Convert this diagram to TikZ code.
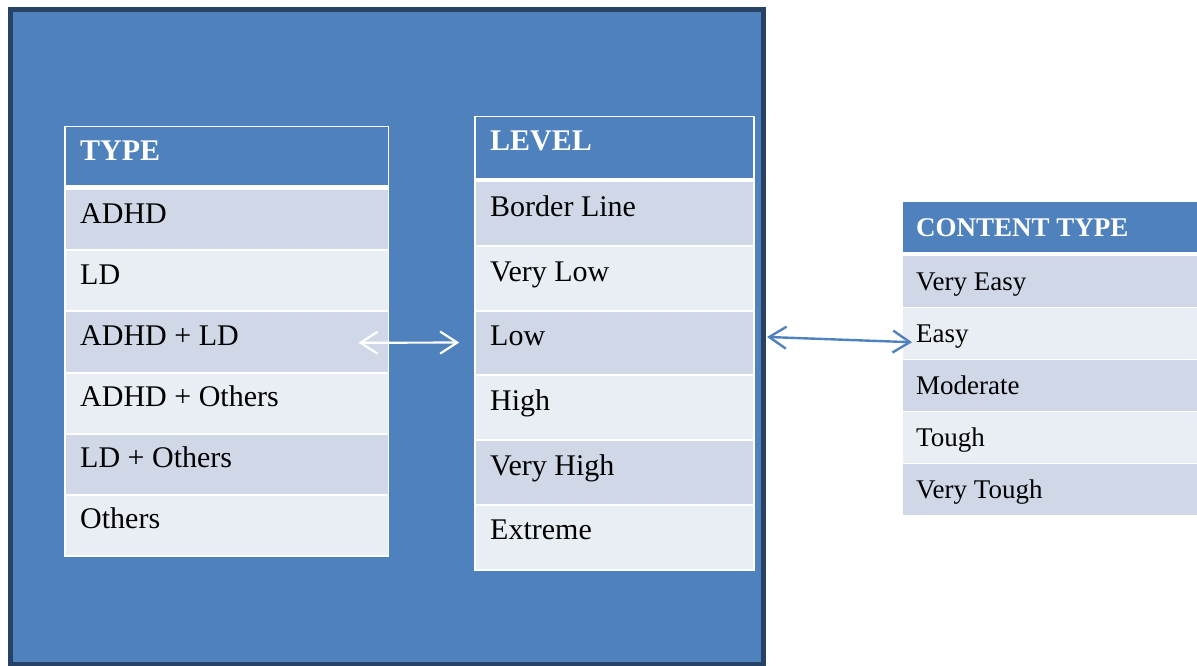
\documentclass[tikz,border=0pt]{standalone}
\usepackage{fontspec}
\setmainfont{Liberation Serif}
\usetikzlibrary{arrows.meta,calc}
\definecolor{accent}{HTML}{4F81BD}
\definecolor{frame}{HTML}{264366}
\definecolor{rowdark}{HTML}{D0D8E8}
\definecolor{rowlight}{HTML}{E9EDF4}
\tikzset{
  cell/.style={anchor=north west, inner sep=0pt, outer sep=0pt, draw=none},
  headtext/.style={anchor=base west, inner sep=0pt, text=white,
    font=\fontsize{#1}{#1}\selectfont\bfseries},
  bodytext/.style={anchor=base west, inner sep=0pt, text=black,
    font=\fontsize{#1}{#1}\selectfont},
  link/.style={line width=2.4pt, {Straight Barb[length=17pt,width=22pt]}-{Straight Barb[length=17pt,width=22pt]}}
}
\begin{document}
\begin{tikzpicture}[x=1pt,y=-1pt]
\useasboundingbox (0,0) rectangle (1197,666);

% framed panel holding the two inner tables
\node[cell, fill=accent, draw=frame, line width=5pt,
      minimum width=753pt, minimum height=655.5pt] (panel) at (10.5,9.2) {};

% TYPE table
\node[cell, fill=white, minimum width=325pt, minimum height=431pt] (typetab) at (64,126) {};
\node[cell, fill=accent, minimum width=322pt, minimum height=57.8pt] (typehead) at (65.5,127.5) {};
\node[headtext=30] (typetitle) at (80,160.5) {TYPE};
\foreach \t [count=\i] in {ADHD, LD, ADHD + LD, ADHD + Others, LD + Others, Others}{
  \ifodd\i\def\rowcol{rowdark}\else\def\rowcol{rowlight}\fi
  \node[cell, fill=\rowcol, minimum width=322pt, minimum height=59.2pt]
    (type\i) at (65.5,{190+(\i-1)*61.17}) {};
  \node[bodytext=30] (typetxt\i) at (80,{190+(\i-1)*61.17+33}) {\t};
}

% LEVEL table
\node[cell, fill=white, minimum width=281pt, minimum height=455pt] (leveltab) at (474,115.7) {};
\node[cell, fill=accent, minimum width=277.6pt, minimum height=60.4pt] (levelhead) at (475.7,117.3) {};
\node[headtext=30] (leveltitle) at (490,150) {LEVEL};
\foreach \t [count=\i] in {Border Line, Very Low, Low, High, Very High, Extreme}{
  \ifodd\i\def\rowcol{rowdark}\else\def\rowcol{rowlight}\fi
  \node[cell, fill=\rowcol, minimum width=277.6pt, minimum height=62.7pt]
    (level\i) at (475.7,{182.3+(\i-1)*64.7}) {};
  \node[bodytext=30] (leveltxt\i) at (490,{182.3+(\i-1)*64.7+34}) {\t};
}

% CONTENT TYPE table
\node[cell, fill=accent, minimum width=294pt, minimum height=49.4pt] (conthead) at (903,202.3) {};
\node[headtext=27] (conttitle) at (916,236) {CONTENT TYPE};
\foreach \t [count=\i] in {Very Easy, Easy, Moderate, Tough, Very Tough}{
  \ifodd\i\def\rowcol{rowdark}\else\def\rowcol{rowlight}\fi
  \node[cell, fill=\rowcol, minimum width=294pt, minimum height=50.5pt]
    (cont\i) at (903,{256+(\i-1)*52}) {};
  \node[bodytext=27] (conttxt\i) at (916,{256+(\i-1)*52+34}) {\t};
}

% connectors
\draw[link, white, line width=2.2pt] ($(type3.east)+(-29,0.8)$) -- ($(level3.west)+(-16.5,-0.5)$);
\draw[link, accent] ($(panel.east)+(3.5,0)$) -- ($(cont2.west)+(9,9)$);
\end{tikzpicture}
\end{document}
